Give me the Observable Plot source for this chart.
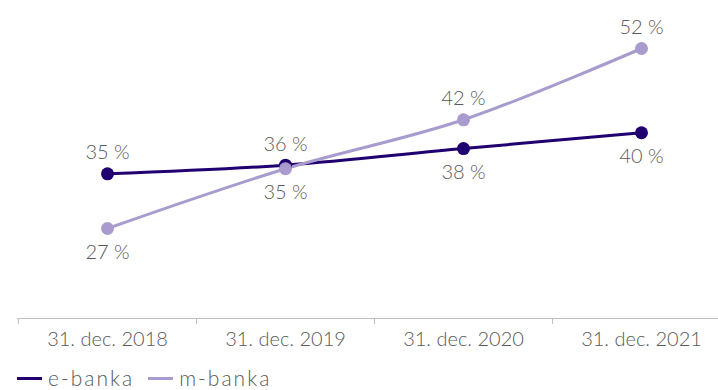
<!DOCTYPE html>
<html>
<head>
<meta charset="utf-8">
<script src="https://cdn.jsdelivr.net/npm/d3@7"></script>
<script src="https://cdn.jsdelivr.net/npm/@observablehq/plot@0.6"></script>
<style>
  html, body { margin: 0; padding: 0; background: #fff; overflow: hidden; }
  #chart { width: 718px; font-family: Lato, "Open Sans", sans-serif; }
  #chart svg text { font-weight: 300; }
  .legend { display: flex; align-items: center; height: 22px; line-height: 22px; margin-top: 1px; padding-left: 17px; font-size: 21px; font-weight: 300; letter-spacing: 2px; color: #595959; }
  .legend .item { display: flex; align-items: center; margin-right: 14px; }
  .legend .sw { display: inline-block; width: 25px; height: 3px; margin-right: 6px; }
</style>
</head>
<body>
<div id="chart"></div>
<script>
const categories = ["31. dec. 2018", "31. dec. 2019", "31. dec. 2020", "31. dec. 2021"];
const seriesNames = ["e-banka", "m-banka"];
const eBanka = [34.6, 35.8, 38.1, 40.3];
const mBanka = [27.0, 35.3, 42.1, 52.0];
const seriesColors = ["#200070", "#a99bce"];

const values = [eBanka, mBanka];
const data = [];
seriesNames.forEach((s, si) => {
  categories.forEach((c, ci) => {
    data.push({cat: c, series: s, value: values[si][ci], other: values[1 - si][ci]});
  });
});
const above = data.filter(d => d.value > d.other);
const below = data.filter(d => d.value <= d.other);

const xRange = [18, 730];
const step = (xRange[1] - xRange[0]) / categories.length;
const yMin = 14.5;

const plot = Plot.plot({
  width: 718,
  height: 366,
  marginLeft: 17,
  marginRight: 0,
  marginTop: 26,
  marginBottom: 48,
  style: {fontSize: "20px", fontFamily: "Lato, 'Open Sans', sans-serif", color: "#595959", background: "#fff"},
  x: {type: "point", domain: categories, range: xRange, padding: 0.5, label: null},
  y: {domain: [yMin, 55], range: [318, 26.4], axis: null},
  color: {domain: seriesNames, range: seriesColors},
  marks: [
    Plot.ruleY([yMin], {stroke: "#bfbfbf", strokeWidth: 1}),
    Plot.axisX({tickSize: 6, dx: -step / 2, tickFormat: () => "", stroke: "#bfbfbf"}),
    Plot.axisX({tickSize: 0, tickPadding: 13, fill: "#595959"}),
    Plot.line(data, {x: "cat", y: "value", z: "series", stroke: "series", strokeWidth: 3, curve: "catmull-rom"}),
    Plot.dot(data, {x: "cat", y: "value", fill: "series", r: 6.5}),
    Plot.text(above, {x: "cat", y: "value", text: d => Math.round(d.value) + " %", dy: -21, fill: "#595959", fontSize: 20}),
    Plot.text(below, {x: "cat", y: "value", text: d => Math.round(d.value) + " %", dy: 24, fill: "#595959", fontSize: 20})
  ]
});

const root = document.getElementById("chart");
root.appendChild(plot);
const legend = document.createElement("div");
legend.className = "legend";
seriesNames.forEach((s, i) => {
  const item = document.createElement("span");
  item.className = "item";
  const sw = document.createElement("span");
  sw.className = "sw";
  sw.style.background = seriesColors[i];
  item.appendChild(sw);
  item.appendChild(document.createTextNode(s));
  legend.appendChild(item);
});
root.appendChild(legend);
</script>
</body>
</html>
